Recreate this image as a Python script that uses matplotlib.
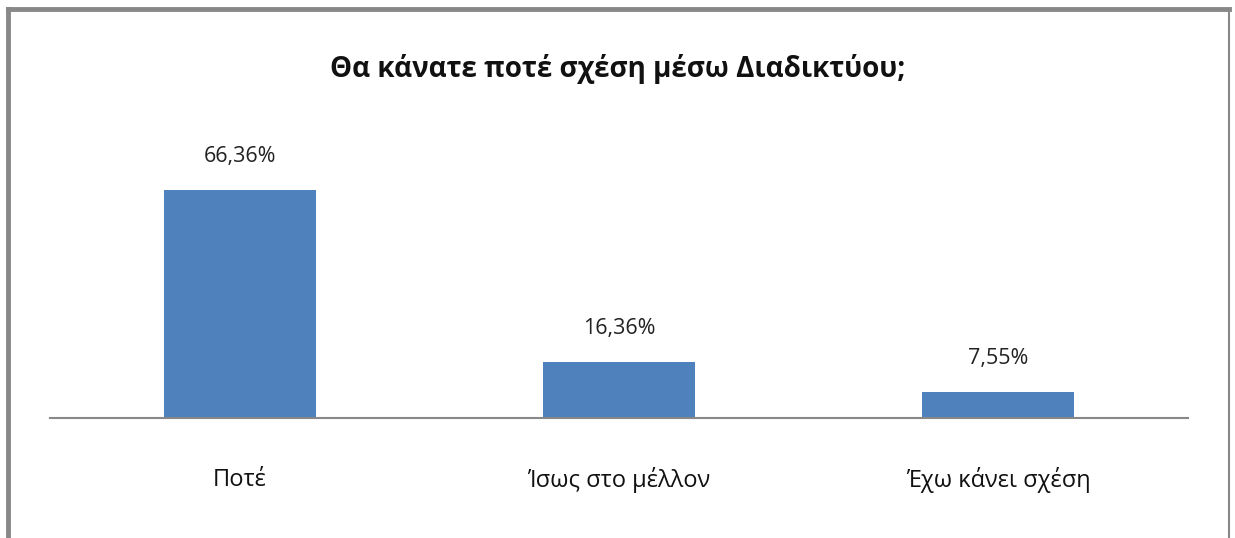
import matplotlib
matplotlib.use("Agg")
import matplotlib.pyplot as plt
from matplotlib.lines import Line2D

categories = ["Ποτέ", "Ίσως στο μέλλον", "Έχω κάνει σχέση"]
values = [66.36, 16.36, 7.55]
value_labels = ["66,36%", "16,36%", "7,55%"]
title = "Θα κάνατε ποτέ σχέση μέσω Διαδικτύου;"

plt.rcParams['font.family'] = ['Open Sans', 'DejaVu Sans']

W, H = 1235, 538
fig = plt.figure(figsize=(W / 100, H / 100), dpi=100)
fig.patch.set_facecolor("white")

# axes: x from 50 to 1188 px, y from 130 to 418 px (top-down)
left, right, top, bottom = 50, 1188, 130, 418
ax = fig.add_axes([left / W, 1 - bottom / H, (right - left) / W, (bottom - top) / H])
ax.set_facecolor("none")
x = range(len(categories))
ax.bar(x, values, width=0.4, color="#4F81BD")
ax.set_xlim(-0.5, len(categories) - 0.5)
ax.set_ylim(0, 83.7)
for s in ["top", "right", "left"]:
    ax.spines[s].set_visible(False)
ax.spines["bottom"].set_color("#888888")
ax.spines["bottom"].set_linewidth(1.5)
ax.set_yticks([])
ax.set_xticks(list(x))
ax.set_xticklabels(categories, fontsize=17, color="#111111")
for lbl in ax.get_xticklabels():
    lbl.set_va("center")
ax.tick_params(axis="x", length=0, pad=44.5)
for xi, v, lab in zip(x, values, value_labels):
    ax.annotate(lab, (xi, v), xytext=(0, 24), textcoords="offset points",
                ha="center", va="center", fontsize=15.5, color="#222222")

fig.text(0.5, 1 - 69 / H, title, ha="center", va="center", fontsize=20,
         fontweight="bold", color="#111111")

# outer frame
fig.add_artist(Line2D([8 / W, 8 / W], [0, 1 - 9 / H], transform=fig.transFigure,
                      color="#888888", lw=3.5))
fig.add_artist(Line2D([8 / W, 1229 / W], [1 - 9 / H, 1 - 9 / H], transform=fig.transFigure,
                      color="#888888", lw=3.5))
fig.add_artist(Line2D([1229 / W, 1229 / W], [0, 1 - 9 / H], transform=fig.transFigure,
                      color="#888888", lw=1.5))

fig.savefig("out.png", dpi=100)
